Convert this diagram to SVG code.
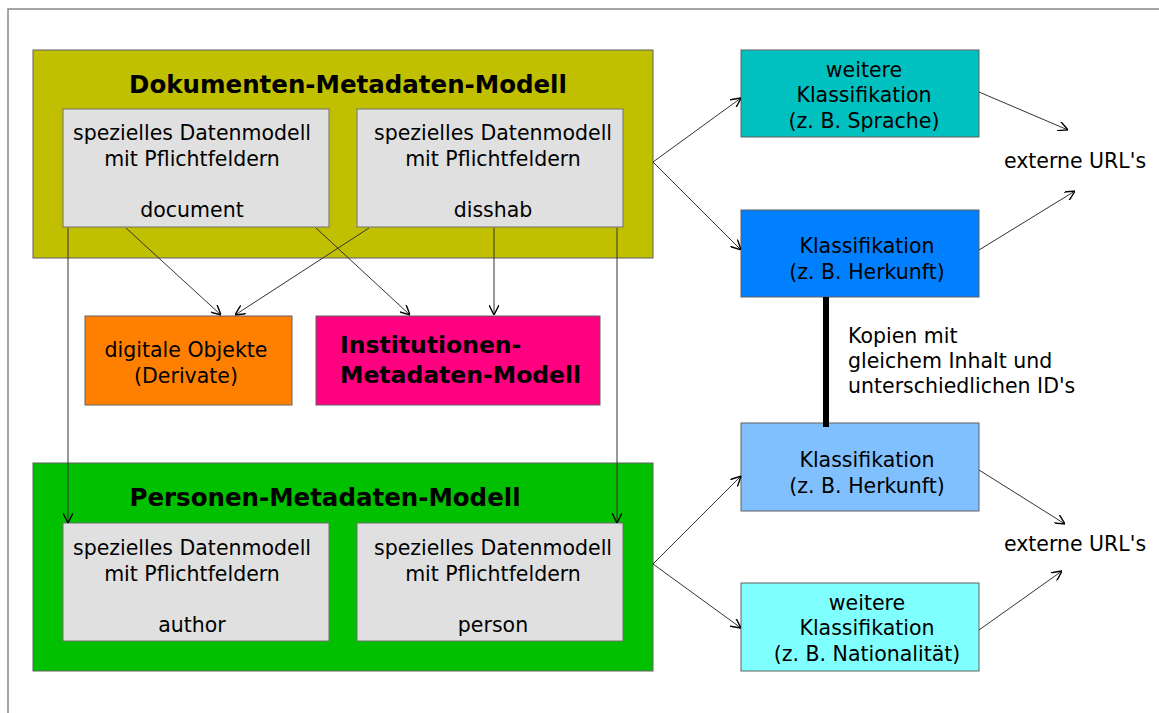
<svg xmlns="http://www.w3.org/2000/svg" width="1159" height="713" viewBox="0 0 1159 713">
<defs>
<marker id="ah" viewBox="0 0 10 10" refX="10" refY="5" markerWidth="10" markerHeight="10" markerUnits="userSpaceOnUse" orient="auto">
<path d="M0,0 L10,5 L0,10" fill="none" stroke="#000" stroke-width="1.4"/>
</marker>
<style>
.t{font-family:"DejaVu Sans",Verdana,sans-serif;font-size:20.5px;fill:#000;text-anchor:middle}
.l{font-family:"DejaVu Sans",Verdana,sans-serif;font-size:20.5px;fill:#000;text-anchor:start}
.b{font-family:"DejaVu Sans",Verdana,sans-serif;font-size:24.5px;font-weight:bold;fill:#000}
.box{stroke:#606060;stroke-width:1}
.gray{fill:#E0E0E0;stroke:#707070;stroke-width:1}
.c{fill:none;stroke:#333;stroke-width:1;marker-end:url(#ah)}
</style>
</defs>
<rect width="1159" height="713" fill="#fff"/>
<path d="M8,713 V9 H1159" fill="none" stroke="#888" stroke-width="1.5"/>

<g id="dok">
<rect class="box" x="33" y="50" width="620" height="208" fill="#C0C000"/>
<text class="b" x="348" y="93" text-anchor="middle">Dokumenten-Metadaten-Modell</text>
</g>
<g id="document">
<rect class="gray" x="63" y="109" width="266" height="118"/>
<text class="t" x="192" y="140">spezielles Datenmodell</text>
<text class="t" x="192" y="166">mit Pflichtfeldern</text>
<text class="t" x="192" y="217">document</text>
</g>
<g id="disshab">
<rect class="gray" x="357" y="109" width="266" height="118"/>
<text class="t" x="493" y="140">spezielles Datenmodell</text>
<text class="t" x="493" y="166">mit Pflichtfeldern</text>
<text class="t" x="493" y="217">disshab</text>
</g>
<g id="derivate">
<rect class="box" x="85" y="316" width="207" height="89" fill="#FF8000"/>
<text class="t" x="186" y="357">digitale Objekte</text>
<text class="t" x="186" y="383">(Derivate)</text>
</g>
<g id="institution">
<rect class="box" x="316" y="316" width="284" height="89" fill="#FF0080"/>
<text class="b" x="340" y="353" style="font-size:23.5px">Institutionen-</text>
<text class="b" x="340" y="383" style="font-size:23.5px">Metadaten-Modell</text>
</g>
<g id="personen">
<rect class="box" x="33" y="463" width="620" height="208" fill="#00C000"/>
<text class="b" x="325" y="506" text-anchor="middle">Personen-Metadaten-Modell</text>
</g>
<g id="author">
<rect class="gray" x="63" y="523" width="266" height="118"/>
<text class="t" x="192" y="555">spezielles Datenmodell</text>
<text class="t" x="192" y="581">mit Pflichtfeldern</text>
<text class="t" x="192" y="632">author</text>
</g>
<g id="person">
<rect class="gray" x="357" y="523" width="266" height="118"/>
<text class="t" x="493" y="555">spezielles Datenmodell</text>
<text class="t" x="493" y="581">mit Pflichtfeldern</text>
<text class="t" x="493" y="632">person</text>
</g>
<g id="klass-sprache">
<rect class="box" x="741" y="50" width="238" height="87" fill="#00C0C0"/>
<text class="t" x="864" y="77">weitere</text>
<text class="t" x="864" y="102">Klassifikation</text>
<text class="t" x="864" y="128">(z. B. Sprache)</text>
</g>
<g id="klass-herkunft1">
<rect class="box" x="741" y="210" width="238" height="87" fill="#0080FF"/>
<text class="t" x="867" y="253">Klassifikation</text>
<text class="t" x="867" y="279">(z. B. Herkunft)</text>
</g>
<g id="klass-herkunft2">
<rect class="box" x="741" y="423" width="238" height="88" fill="#80C0FF"/>
<text class="t" x="867" y="467">Klassifikation</text>
<text class="t" x="867" y="493">(z. B. Herkunft)</text>
</g>
<g id="klass-nation">
<rect class="box" x="741" y="583" width="238" height="88" fill="#80FFFF"/>
<text class="t" x="867" y="610">weitere</text>
<text class="t" x="867" y="635">Klassifikation</text>
<text class="t" x="867" y="661">(z. B. Nationalität)</text>
</g>
<g id="url1"><text class="t" x="1075" y="168">externe URL's</text></g>
<g id="url2"><text class="t" x="1075" y="551">externe URL's</text></g>
<g id="kopien-label">
<text class="l" x="848" y="343">Kopien mit</text>
<text class="l" x="848" y="368">gleichem Inhalt und</text>
<text class="l" x="848" y="393">unterschiedlichen ID's</text>
</g>

<g id="connectors">
<line x1="826" y1="297" x2="826" y2="427" stroke="#000" stroke-width="6"/>
<line class="c" x1="653" y1="162" x2="741" y2="98"/>
<line class="c" x1="653" y1="162" x2="741" y2="250"/>
<line class="c" x1="979" y1="92" x2="1068" y2="130"/>
<line class="c" x1="979" y1="250" x2="1075" y2="191"/>
<line class="c" x1="653" y1="564" x2="741" y2="476"/>
<line class="c" x1="653" y1="564" x2="741" y2="628"/>
<line class="c" x1="979" y1="470" x2="1065" y2="524"/>
<line class="c" x1="979" y1="630" x2="1062" y2="571"/>
<line class="c" x1="126" y1="228" x2="221" y2="315"/>
<line class="c" x1="369" y1="228" x2="235" y2="315"/>
<line class="c" x1="316" y1="228" x2="410" y2="315"/>
<line class="c" x1="494" y1="228" x2="494" y2="315"/>
<line class="c" x1="68" y1="228" x2="68" y2="523"/>
<line class="c" x1="617" y1="228" x2="617" y2="523"/>
</g>
</svg>
